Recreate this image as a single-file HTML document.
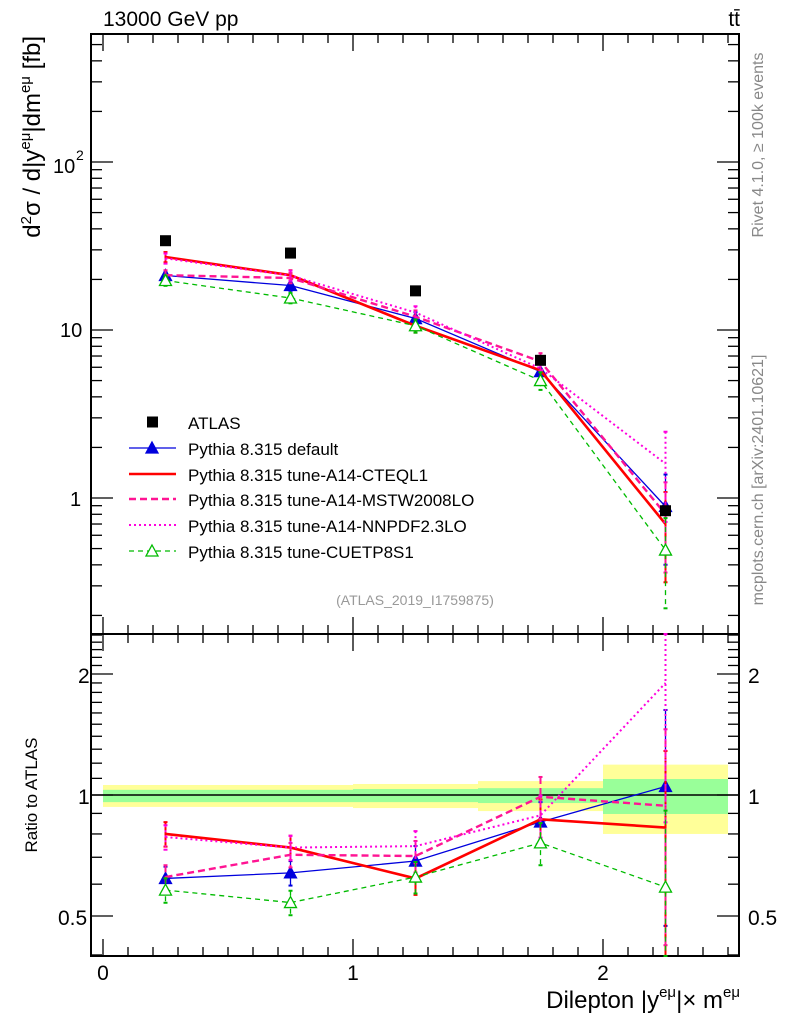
<!DOCTYPE html>
<html><head><meta charset="utf-8"><style>
html,body{margin:0;padding:0;background:#fff;}
svg{display:block;font-family:"Liberation Sans",sans-serif;}
</style></head><body>
<svg id="c" width="786" height="1024" viewBox="0 0 786 1024"></svg>
<script>
const binEdges=[0,0.5,1,1.5,2,2.5];
const centers=[0.25,0.75,1.25,1.75,2.25];
const atlas=[34,28.7,17.1,6.6,0.84];
const sDefault=[21.1,18.4,11.7,5.65,0.89];
const sCTEQ=[27.2,21.2,10.6,5.75,0.70];
const sMSTW=[21.2,20.4,12.0,6.5,0.80];
const sNNPDF=[26.7,21.1,12.7,5.9,1.6];
const sCUETP=[19.7,15.5,10.6,5.0,0.49];
const rDefault=[0.62,0.64,0.685,0.857,1.05];
const rCTEQ=[0.80,0.74,0.62,0.87,0.83];
const rMSTW=[0.625,0.71,0.705,0.99,0.94];
const rNNPDF=[0.786,0.74,0.746,0.89,1.90];
const rCUETP=[0.58,0.54,0.625,0.76,0.59];
const relErr=[0.07,0.07,0.09,0.12,0.55];
const bandYelUp=[1.059,1.059,1.065,1.083,1.19];
const bandYelDn=[0.934,0.934,0.928,0.912,0.80];
const bandGrnUp=[1.03,1.03,1.035,1.04,1.096];
const bandGrnDn=[0.96,0.96,0.96,0.955,0.897];
const legendLabels=["ATLAS","Pythia 8.315 default","Pythia 8.315 tune-A14-CTEQL1","Pythia 8.315 tune-A14-MSTW2008LO","Pythia 8.315 tune-A14-NNPDF2.3LO","Pythia 8.315 tune-CUETP8S1"];
const xTickLabels=["0","1","2"];

const NS="http://www.w3.org/2000/svg";
const svg=document.getElementById('c');
const L=91,R=739,T=34,M=634,B=956;
const X=v=>103+250*v;
const Ym=v=>330-168*(Math.log10(v)-1);
const Yr=v=>795-121*Math.log2(v);
function el(tag,attrs,parent){const e=document.createElementNS(NS,tag);for(const k in attrs)e.setAttribute(k,attrs[k]);(parent||svg).appendChild(e);return e;}
function txt(s,x,y,attrs){const e=el('text',Object.assign({x:x,y:y},attrs));e.textContent=s;return e;}

const bands=el('g',{});


for(let i=0;i<centers.length;i++){
 const r1=el('rect',{x:X(binEdges[i]),y:Yr(bandYelUp[i]),width:X(binEdges[i+1])-X(binEdges[i]),height:Yr(bandYelDn[i])-Yr(bandYelUp[i]),fill:'#ffff99'},bands);
 
 
 const r2=el('rect',{x:X(binEdges[i]),y:Yr(bandGrnUp[i]),width:X(binEdges[i+1])-X(binEdges[i]),height:Yr(bandGrnDn[i])-Yr(bandGrnUp[i]),fill:'#99ff99'},bands);
 
 
}
el('line',{x1:L,x2:R,y1:Yr(1),y2:Yr(1),stroke:'#000','stroke-width':1.5});

el('rect',{x:L,y:T,width:R-L,height:M-T,fill:'none',stroke:'#000','stroke-width':2});
el('rect',{x:L,y:M,width:R-L,height:B-M,fill:'none',stroke:'#000','stroke-width':2});
const tk=el('g',{stroke:'#000','stroke-width':1.3});
for(let d=-1;d<=2;d++)for(let m=1;m<=9;m++){const v=m*Math.pow(10,d);const y=Ym(v);if(y<T||y>M)continue;const len=m==1?22:11;
 el('line',{x1:L,x2:L+len,y1:y,y2:y},tk);el('line',{x1:R,x2:R-len,y1:y,y2:y},tk);}
for(let v=0.4;v<=2.55;v+=0.1){const vv=Math.round(v*10)/10;const y=Yr(vv);if(y<M||y>B)continue;const len=(vv==0.5||vv==1||vv==2)?22:11;
 el('line',{x1:L,x2:L+len,y1:y,y2:y},tk);el('line',{x1:R,x2:R-len,y1:y,y2:y},tk);}
for(let i=0;i<=25;i++){const v=i/10;const x=X(v);const len=i%10==0?17:9;
 el('line',{x1:x,x2:x,y1:T,y2:T+len},tk);el('line',{x1:x,x2:x,y1:M,y2:M-len},tk);
 el('line',{x1:x,x2:x,y1:M,y2:M+len},tk);el('line',{x1:x,x2:x,y1:B,y2:B-len},tk);}

const fs={'font-size':21,fill:'#000'};
txt('10',60,337,Object.assign({},fs,{'font-size':20}));
txt('1',70,506,Object.assign({},fs,{'font-size':20}));
txt('10',53,173,Object.assign({},fs,{'font-size':20}));
txt('2',76,160,{'font-size':14});
txt('2',78,683,fs);txt('1',78,804,fs);txt('0.5',58,925,fs);
txt('2',748,683,fs);txt('1',748,804,fs);txt('0.5',748,925,fs);
for(let i=0;i<3;i++)txt(xTickLabels[i],X(i),980,Object.assign({},fs,{'text-anchor':'middle'}));

txt('13000 GeV pp',103,26,{'font-size':21});
txt('tt̄',740,26,{'font-size':21,'text-anchor':'end'});
const yt=txt('',0,0,{'font-size':24,transform:'translate(40,36) rotate(-90)','text-anchor':'end'});
yt.innerHTML='d<tspan dy="-9" font-size="15">2</tspan><tspan dy="9">σ / d|y</tspan><tspan dy="-10" font-size="15">eμ</tspan><tspan dy="10">|dm</tspan><tspan dy="-10" font-size="15">eμ</tspan><tspan dy="10"> [fb]</tspan>';
txt('Ratio to ATLAS',0,0,{'font-size':17,transform:'translate(37,795) rotate(-90)','text-anchor':'middle'});
const xt=txt('',740,1008,{'font-size':24,'text-anchor':'end'});
xt.innerHTML='Dilepton |y<tspan dy="-11" font-size="15">eμ</tspan><tspan dy="11">|× m</tspan><tspan dy="-11" font-size="15">eμ</tspan>';
txt('Rivet 4.1.0, ≥ 100k events',0,0,{'font-size':16,fill:'#888',transform:'translate(763,145) rotate(-90)','text-anchor':'middle'});
txt('mcplots.cern.ch [arXiv:2401.10621]',0,0,{'font-size':16,fill:'#888',transform:'translate(763,480) rotate(-90)','text-anchor':'middle'});
txt('(ATLAS_2019_I1759875)',415,605,{'font-size':14,fill:'#999','text-anchor':'middle'});

const series=[
 {name:'default',main:sDefault,ratio:rDefault,color:'#0000dd',w:1.3,dash:'',marker:'tri-filled'},
 {name:'cteql1',main:sCTEQ,ratio:rCTEQ,color:'#ff0000',w:2.6,dash:'',marker:''},
 {name:'mstw2008lo',main:sMSTW,ratio:rMSTW,color:'#ff1493',w:2.4,dash:'7,4',marker:''},
 {name:'nnpdf23lo',main:sNNPDF,ratio:rNNPDF,color:'#ff00dd',w:2,dash:'2,3',marker:''},
 {name:'cuetp8s1',main:sCUETP,ratio:rCUETP,color:'#00bb00',w:1.3,dash:'5,4',marker:'tri-open'}];
function tri(x,y,s,filled,g){return el('path',{d:`M${x},${y-6}L${x+6},${y+5}L${x-6},${y+5}Z`,fill:filled?s.color:'#fff',stroke:s.color,'stroke-width':1.3},g);}
function drawSeries(s,vals,Y,clipTop,clipBot,panel){
 const g=el('g',{});
 
 
 for(let i=0;i<vals.length;i++){
  const x=X(centers[i]);let yu=Y(vals[i]*(1+relErr[i])),yd=Y(Math.max(vals[i]*(1-relErr[i]),0.01));
  yu=Math.max(yu,clipTop);yd=Math.min(yd,clipBot);
  el('line',{x1:x,x2:x,y1:yu,y2:yd,stroke:s.color,'stroke-width':Math.min(s.w,2),'stroke-dasharray':s.dash},g);
  el('line',{x1:x-2,x2:x+2,y1:yu,y2:yu,stroke:s.color,'stroke-width':2},g);
  el('line',{x1:x-2,x2:x+2,y1:yd,y2:yd,stroke:s.color,'stroke-width':2},g);
 }
 const pts=vals.map((v,i)=>X(centers[i])+','+Y(v)).join(' ');
 el('polyline',{points:pts,fill:'none',stroke:s.color,'stroke-width':s.w,'stroke-dasharray':s.dash},g);
 if(s.marker)for(let i=0;i<vals.length;i++)tri(X(centers[i]),Y(vals[i]),s,s.marker=='tri-filled',g);
}
series.forEach(s=>{drawSeries(s,s.main,Ym,T,M,'main');drawSeries(s,s.ratio,Yr,M,B,'ratio');});
const ag=el('g',{});


atlas.forEach((v,i)=>{const p=el('rect',{x:X(centers[i])-5.5,y:Ym(v)-5.5,width:11,height:11,fill:'#000'},ag);
 
 });

const lg=el('g',{});


const ly=[422,448,474,499,525,551];
el('rect',{x:147,y:ly[0]-5.5,width:11,height:11,fill:'#000'},lg);
txt(legendLabels[0],188,ly[0]+7,{'font-size':17});
series.forEach((s,i)=>{const y=ly[i+1];
 el('line',{x1:129,x2:176,y1:y,y2:y,stroke:s.color,'stroke-width':s.w,'stroke-dasharray':s.dash},lg);
 if(s.marker)tri(152,y,s,s.marker=='tri-filled',lg);
 const t=txt(legendLabels[i+1],188,y+7,{'font-size':17});
 
 });
</script>
</body></html>
